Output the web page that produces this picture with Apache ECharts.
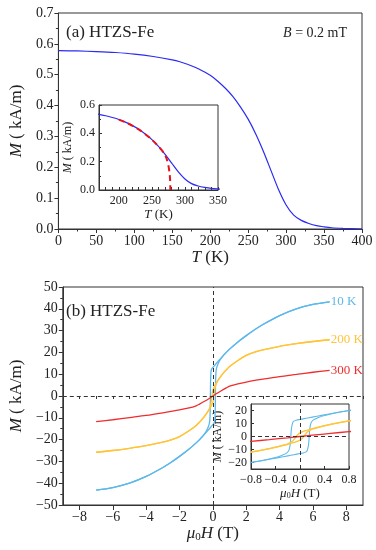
<!DOCTYPE html>
<html>
<head>
<meta charset="utf-8">
<script src="https://cdn.jsdelivr.net/npm/echarts@6/dist/echarts.min.js"></script>
<style>html,body{margin:0;padding:0;background:#fff}#c{width:376px;height:550px}</style>
</head>
<body>
<div id="c"></div>
<script>
// ---- panel (a): M(T) ----
const tempT = [0, 25, 50, 75, 100, 125, 150, 160, 170, 180, 190, 200, 210, 220, 230, 240, 250, 260, 270, 280, 290, 300, 310, 320, 330, 340, 350, 360, 375, 400];
const magM  = [0.578, 0.577, 0.575, 0.572, 0.567, 0.559, 0.548, 0.542, 0.534, 0.524, 0.512, 0.498, 0.479, 0.456, 0.429, 0.395, 0.356, 0.308, 0.252, 0.190, 0.128, 0.078, 0.045, 0.028, 0.018, 0.011, 0.007, 0.004, 0.002, 0.000];
const fitT  = [200, 210, 220, 230, 240, 250, 258, 264, 268, 271, 273, 275, 276.5, 277.5, 278];
const fitM  = [0.497, 0.478, 0.455, 0.428, 0.394, 0.355, 0.318, 0.286, 0.261, 0.236, 0.210, 0.172, 0.128, 0.075, 0.0];
const insetTLabels = [200, 250, 300, 350];

// ---- panel (b): M(H) loops ----
const h10Desc = [7, 6, 5, 4, 3, 2.5, 2, 1.5, 1, 0.8, 0.6, 0.4, 0.3, 0.2, 0.1, 0, -0.05, -0.1, -0.12, -0.14, -0.15, -0.16, -0.18, -0.22, -0.3, -0.4, -0.6, -0.8, -1, -1.5, -2, -2.5, -3, -4, -5, -6, -7];
const m10Desc = [43.2, 42.0, 40.0, 36.9, 32.8, 30.4, 27.7, 24.8, 21.5, 20.0, 18.4, 16.7, 15.8, 14.9, 14.0, 13.1, 12.7, 11.8, 10.5, 6.0, 0.0, -6.0, -10.5, -12.8, -14.6, -16.2, -18.3, -20.0, -21.5, -24.8, -27.7, -30.4, -32.8, -36.9, -40.0, -42.0, -43.2];
const h10Asc  = [-7, -6, -5, -4, -3, -2.5, -2, -1.5, -1, -0.8, -0.6, -0.4, -0.3, -0.2, -0.1, 0, 0.05, 0.1, 0.12, 0.14, 0.15, 0.16, 0.18, 0.22, 0.3, 0.4, 0.6, 0.8, 1, 1.5, 2, 2.5, 3, 4, 5, 6, 7];
const m10Asc  = [-43.2, -42.0, -40.0, -36.9, -32.8, -30.4, -27.7, -24.8, -21.5, -20.0, -18.4, -16.7, -15.8, -14.9, -14.0, -13.1, -12.7, -11.8, -10.5, -6.0, 0.0, 6.0, 10.5, 12.8, 14.6, 16.2, 18.3, 20.0, 21.5, 24.8, 27.7, 30.4, 32.8, 36.9, 40.0, 42.0, 43.2];

const h200Desc = [7, 6, 5, 4, 3, 2.5, 2, 1.5, 1, 0.8, 0.6, 0.4, 0.2, 0.1, 0, -0.04, -0.08, -0.12, -0.2, -0.3, -0.4, -0.6, -0.8, -1, -1.5, -2, -2.5, -3, -4, -5, -6, -7];
const m200Desc = [25.8, 25.0, 24.0, 22.8, 21.2, 20.1, 18.6, 16.3, 13.5, 12.0, 10.3, 8.3, 6.0, 4.6, 2.8, 1.2, -1.2, -3.4, -5.6, -7.0, -8.2, -10.3, -12.0, -13.5, -16.3, -18.6, -20.1, -21.2, -22.8, -24.0, -25.0, -25.8];
const h200Asc  = [-7, -6, -5, -4, -3, -2.5, -2, -1.5, -1, -0.8, -0.6, -0.4, -0.2, -0.1, 0, 0.04, 0.08, 0.12, 0.2, 0.3, 0.4, 0.6, 0.8, 1, 1.5, 2, 2.5, 3, 4, 5, 6, 7];
const m200Asc  = [-25.8, -25.0, -24.0, -22.8, -21.2, -20.1, -18.6, -16.3, -13.5, -12.0, -10.3, -8.3, -6.0, -4.6, -2.8, -1.2, 1.2, 3.4, 5.6, 7.0, 8.2, 10.3, 12.0, 13.5, 16.3, 18.6, 20.1, 21.2, 22.8, 24.0, 25.0, 25.8];

const h300 = [-7, -6, -5, -4, -3, -2, -1.5, -1, -0.8, -0.5, -0.2, 0, 0.2, 0.5, 0.8, 1, 1.5, 2, 3, 4, 5, 6, 7];
const m300 = [-11.8, -10.9, -9.9, -8.9, -7.7, -6.4, -5.6, -4.5, -3.7, -2.4, -1.0, 0, 1.0, 2.4, 3.7, 4.5, 5.6, 6.4, 7.7, 8.9, 9.9, 10.9, 11.8];

const mainHLabels = [-8, -6, -4, -2, 0, 2, 4, 6, 8];
const insetMLabels = [-20, -10, 0, 10, 20];

const FONT = "'Liberation Serif', 'Times New Roman', serif";
const TC = '#222';
const AX = '#333';
const C10 = '#5cb8ea', C200 = '#ffc43a', C300 = '#ee2e2e', CBLUE = '#2b2bf2', CRED = '#e8121c';

const zip = (a, b) => a.map((v, i) => [v, b[i]]);
const minus = v => (v < 0 ? '\u2212' + String(-v) : String(v));
const minus1 = v => (v < -1e-9 ? '\u2212' + (-v).toFixed(1) : Math.abs(v).toFixed(1));

const rich = (fs) => ({
  i: { fontFamily: FONT, fontSize: fs, fontStyle: 'italic', color: TC },
  n: { fontFamily: FONT, fontSize: fs, color: TC },
  s: { fontFamily: FONT, fontSize: Math.round(fs * 0.65), color: TC, verticalAlign: 'bottom', padding: [Math.round(fs*0.45), 0, 0, 0] }
});

function axis(o) {
  const fs = o.fs || 14;
  const a = {
    type: 'value',
    gridIndex: o.grid,
    min: o.min, max: o.max, interval: o.interval,
    axisLine: { show: true, onZero: false, lineStyle: { color: AX, width: 1 } },
    axisTick: { show: true, inside: !!o.inside, length: o.tickLen || 4, lineStyle: { color: AX } },
    minorTick: { show: !!o.minor, splitNumber: o.minor || 2, length: o.minorLen || 2.5, lineStyle: { color: AX } },
    splitLine: { show: false },
    axisLabel: { fontFamily: FONT, fontSize: fs, color: TC, margin: o.margin || 5, formatter: o.fmt },
    name: o.name, nameLocation: 'middle', nameGap: o.nameGap,
    nameTextStyle: { fontFamily: FONT, fontSize: o.nfs, color: TC, rich: rich(o.nfs) }
  };
  if (o.labelVals) a.axisLabel.customValues = o.labelVals;
  if (o.tickVals) a.axisTick.customValues = o.tickVals;
  if (o.position) a.position = o.position;
  return a;
}

const lineS = (x, y, data, color, extra) => Object.assign({
  type: 'line', xAxisIndex: x, yAxisIndex: y, data: data,
  showSymbol: false, symbol: 'none', clip: true,
  smooth: 0.3,
  lineStyle: { color: color, width: 1.3 }, itemStyle: { color: color }, z: 3
}, extra || {});

const dashMark = {
  silent: true, symbol: ['none', 'none'], label: { show: false },
  lineStyle: { type: [4, 3], color: '#333', width: 1 },
  emphasis: { disabled: true },
  data: [{ xAxis: 0 }, { yAxis: 0 }]
};
const endLab = (txt, color) => ({ show: true, formatter: txt, color: color, fontFamily: FONT, fontSize: 13, distance: 1 });

const chart = echarts.init(document.getElementById('c'), null, { renderer: 'canvas' });
chart.setOption({
  animation: false,
  backgroundColor: '#fff',
  title: [
    { text: '(a) HTZS-Fe', left: 66, top: 24, padding: 0, textStyle: { fontFamily: FONT, fontSize: 17, fontWeight: 'normal', color: TC } },
    { text: '{i|B}{n| = 0.2 mT}', right: 29, top: 26, padding: 0, textStyle: { fontFamily: FONT, fontSize: 14, fontWeight: 'normal', color: TC, rich: rich(14) } },
    { text: '(b) HTZS-Fe', left: 66, top: 303, padding: 0, textStyle: { fontFamily: FONT, fontSize: 17, fontWeight: 'normal', color: TC } }
  ],
  grid: [
    { left: 54, top: 13, width: 308, height: 216, show: true, borderColor: AX, borderWidth: 1, backgroundColor: 'transparent' },
    { left: 99, top: 105, width: 119, height: 85, show: true, borderColor: AX, borderWidth: 1, backgroundColor: '#fff' },
    { left: 52, top: 287, width: 311, height: 218, show: true, borderColor: AX, borderWidth: 1, backgroundColor: 'transparent' },
    { left: 251, top: 404, width: 98, height: 65, show: true, borderColor: AX, borderWidth: 1, backgroundColor: '#fff' }
  ],
  xAxis: [
    axis({ grid: 0, min: 0, max: 400, interval: 50, minor: 2, fmt: v => String(v), name: '{i|T}{n| (K)}', nameGap: 18, nfs: 17 }),
    axis({ grid: 1, min: 170, max: 350, interval: 10, inside: true, tickLen: 3, fs: 12, labelVals: insetTLabels, fmt: v => String(v), name: '{i|T}{n| (K)}', nameGap: 15, nfs: 13 }),
    axis({ grid: 2, min: -9, max: 9, interval: 1, tickLen: 5, labelVals: mainHLabels, tickVals: mainHLabels, fmt: minus, name: '{i|\u03bc}{s|0}{i|H}{n| (T)}', nameGap: 17, nfs: 17 }),
    axis({ grid: 3, min: -0.8, max: 0.8, interval: 0.4, inside: true, tickLen: 3, fs: 12, fmt: minus1, name: '{i|\u03bc}{s|0}{i|H}{n| (T)}', nameGap: 14, nfs: 13 }),
    Object.assign(axis({ grid: 2, min: -9, max: 9, interval: 1, tickLen: 3, position: 'bottom' }), { axisLine: { show: false }, axisLabel: { show: false }, name: '' })
  ],
  yAxis: [
    axis({ grid: 0, min: 0, max: 0.7, interval: 0.1, minor: 2, fmt: v => v.toFixed(1), name: '{i|M}{n| ( kA/m)}', nameGap: 29, nfs: 17 }),
    axis({ grid: 1, min: 0, max: 0.6, interval: 0.2, inside: true, tickLen: 3, minor: 2, minorLen: 2, fs: 12, margin: 4, fmt: v => v.toFixed(1), name: '{i|M}{n| ( kA/m)}', nameGap: 25, nfs: 12 }),
    axis({ grid: 2, min: -50, max: 50, interval: 10, minor: 2, fmt: minus, name: '{i|M}{n| ( kA/m)}', nameGap: 31, nfs: 17 }),
    axis({ grid: 3, min: -25, max: 25, interval: 5, inside: true, tickLen: 3, fs: 12, margin: 4, labelVals: insetMLabels, tickVals: insetMLabels, fmt: minus, name: '{i|M}{n| ( kA/m)}', nameGap: 23, nfs: 12 })
  ],
  series: [
    lineS(0, 0, zip(tempT, magM), CBLUE, { lineStyle: { color: CBLUE, width: 1.2 } }),
    lineS(1, 1, zip(tempT, magM), CBLUE, { lineStyle: { color: CBLUE, width: 1.2 } }),
    lineS(1, 1, zip(fitT, fitM), CRED, { lineStyle: { color: CRED, width: 2, type: [6, 4] }, z: 4 }),

    lineS(2, 2, zip(h10Desc, m10Desc), C10),
    lineS(2, 2, zip(h10Asc, m10Asc), C10, { endLabel: endLab('10 K', C10) }),
    lineS(2, 2, zip(h200Desc, m200Desc), C200),
    lineS(2, 2, zip(h200Asc, m200Asc), C200, { endLabel: endLab('200 K', C200) }),
    lineS(2, 2, zip(h300, m300), C300, { endLabel: endLab('300 K', C300), markLine: dashMark }),

    lineS(3, 3, zip(h10Desc, m10Desc), C10, { lineStyle: { color: C10, width: 1.1 } }),
    lineS(3, 3, zip(h10Asc, m10Asc), C10, { lineStyle: { color: C10, width: 1.1 } }),
    lineS(3, 3, zip(h200Desc, m200Desc), C200, { lineStyle: { color: C200, width: 1.3 } }),
    lineS(3, 3, zip(h200Asc, m200Asc), C200, { lineStyle: { color: C200, width: 1.3 } }),
    lineS(3, 3, zip(h300, m300), C300, { lineStyle: { color: C300, width: 1.3 }, markLine: dashMark })
  ]
});
</script>
</body>
</html>
